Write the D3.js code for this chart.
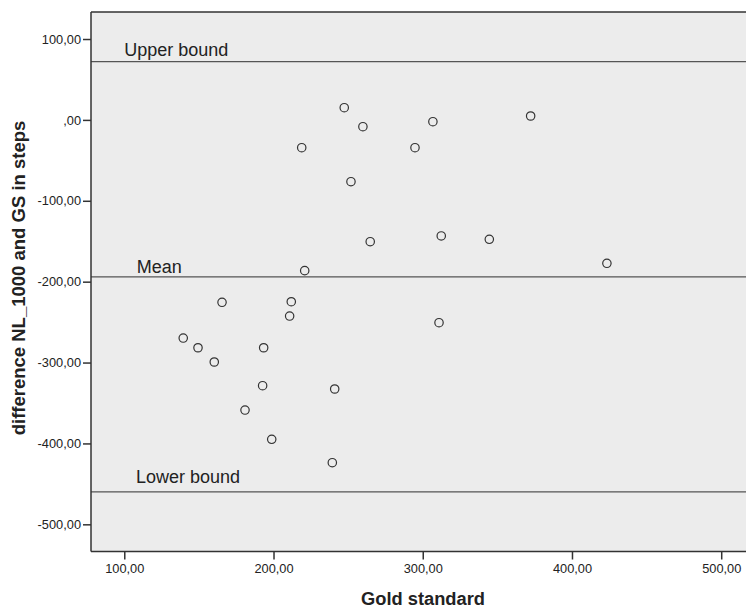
<!DOCTYPE html>
<html>
<head>
<meta charset="utf-8">
<script src="https://cdn.jsdelivr.net/npm/d3@7"></script>
<style>
  body { margin: 0; background: #fff; }
  text { font-family: "Liberation Sans", Arial, sans-serif; fill: #222; }
</style>
</head>
<body>
<div id="chart"></div>
<script>
// gold standard steps (x) and difference NL_1000 - GS (y)
const goldStandard = [247.4, 259.9, 306.8, 218.9, 294.8, 251.9, 264.8, 312.4, 220.9, 372.3,
                      344.6, 423.4, 165.5, 211.9, 210.8, 310.9, 139.5, 149.4, 193.4, 160.3,
                      192.7, 241.0, 180.9, 198.8, 239.4];
const difference   = [15.1, -8.4, -2.2, -34.4, -34.4, -76.4, -150.6, -143.5, -186.4, 4.8,
                      -147.6, -177.3, -225.5, -224.8, -242.5, -250.7, -269.7, -281.7, -281.7, -299.3,
                      -328.6, -332.7, -358.7, -394.9, -423.8];

// reference lines (Bland-Altman)
const refNames  = ["Upper bound", "Mean", "Lower bound"];
const refValues = [72.0, -194.0, -459.8];
const refLabelX = [100, 108.3, 107.8];
const refLabelY = [79, -188.9, -448.6];

const xTicks = [100, 200, 300, 400, 500];
const yTicks = [100, 0, -100, -200, -300, -400, -500];

const W = 746, H = 608;

const svg = d3.select('#chart')
  .append('svg')
  .attr('width', W)
  .attr('height', H);

// axis ranges
const x = d3.scaleLinear().domain([77.7, 528]).range([91, 763]);
const y = d3.scaleLinear().domain([-533.6, 133.4]).range([551.5, 12]);

const fmt = d => d === 0 ? ',00' : d.toFixed(2).replace('.', ',');

// plot background
svg.append('rect')
  .attr('x', x(77.7))
  .attr('y', y(133.4))
  .attr('width', x(528) - x(77.7))
  .attr('height', y(-533.6) - y(133.4))
  .attr('fill', '#ececec');

// reference lines
svg.selectAll('line.ref')
  .data(refValues)
  .enter()
  .append('line')
  .attr('class', 'ref')
  .attr('x1', x(77.7))
  .attr('x2', x(528))
  .attr('y1', d => y(d))
  .attr('y2', d => y(d))
  .attr('stroke', '#555')
  .attr('stroke-width', 1.3);

svg.selectAll('text.ref')
  .data(refNames)
  .enter()
  .append('text')
  .attr('class', 'ref')
  .attr('x', (d, i) => x(refLabelX[i]))
  .attr('y', (d, i) => y(refLabelY[i]))
  .style('font-size', '18px')
  .text(d => d);

// frame: top, left, bottom
const frame = svg.append('g')
  .attr('stroke', '#333')
  .attr('stroke-width', 1.5);
frame.append('line').attr('x1', x(77.7)).attr('x2', x(528)).attr('y1', y(133.4)).attr('y2', y(133.4));
frame.append('line').attr('x1', x(77.7)).attr('x2', x(77.7)).attr('y1', y(133.4)).attr('y2', y(-533.6));
frame.append('line').attr('x1', x(77.7)).attr('x2', x(528)).attr('y1', y(-533.6)).attr('y2', y(-533.6));

// axes
const xAxis = svg.append('g')
  .attr('transform', `translate(0,${y(-533.6)})`)
  .call(d3.axisBottom(x).tickValues(xTicks).tickFormat(fmt).tickSize(8).tickPadding(4));
const yAxis = svg.append('g')
  .attr('transform', `translate(${x(77.7)},0)`)
  .call(d3.axisLeft(y).tickValues(yTicks).tickFormat(fmt).tickSize(8).tickPadding(2));

[xAxis, yAxis].forEach(a => {
  a.select('.domain').remove();
  a.selectAll('.tick line').attr('stroke', '#333').attr('stroke-width', 1.5);
  a.selectAll('.tick text')
    .style('font-family', '"Liberation Sans", Arial, sans-serif')
    .style('font-size', '12.8px')
    .attr('fill', '#222');
});

// points
svg.append('g')
  .selectAll('circle')
  .data(goldStandard)
  .enter()
  .append('circle')
  .attr('cx', d => x(d))
  .attr('cy', (d, i) => y(difference[i]))
  .attr('r', 4.2)
  .attr('fill', 'none')
  .attr('stroke', '#333')
  .attr('stroke-width', 1.2);

// axis titles
svg.append('text')
  .attr('x', 423)
  .attr('y', 605)
  .attr('text-anchor', 'middle')
  .style('font-size', '18.3px')
  .style('font-weight', 'bold')
  .text('Gold standard');

svg.append('text')
  .attr('transform', 'translate(25,278) rotate(-90)')
  .attr('text-anchor', 'middle')
  .style('font-size', '18.5px')
  .style('font-weight', 'bold')
  .text('difference NL_1000 and GS in steps');
</script>
</body>
</html>
